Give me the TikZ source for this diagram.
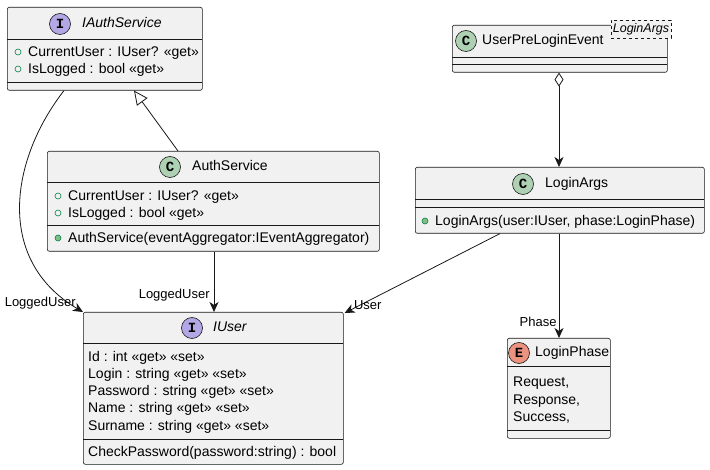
\documentclass[tikz,border=0pt]{standalone}
\usepackage{fontspec}
\setmainfont{Liberation Sans}
\setmonofont{Liberation Mono}
\usetikzlibrary{arrows.meta, positioning, calc}
\definecolor{umlline}{HTML}{181818}
\definecolor{umlbg}{HTML}{F1F1F1}
\definecolor{ifacecirc}{HTML}{B4A7E5}
\definecolor{classcirc}{HTML}{ADD1B2}
\definecolor{enumcirc}{HTML}{EB937F}
\definecolor{visgreen}{HTML}{038048}
\definecolor{vislight}{HTML}{84BE84}

\begin{document}
\begin{tikzpicture}[
    x=1pt, y=-1pt,
    classbox/.style={
        draw=umlline, fill=umlbg, line width=0.6pt, rounded corners=2pt,
        inner sep=0pt, anchor=north west
    },
    sepline/.style={draw=umlline, line width=0.6pt},
    stereo/.style={
        circle, draw=umlline, line width=0.6pt, fill=#1,
        minimum size=21pt, inner sep=0pt,
        font=\fontsize{14}{14}\selectfont\ttfamily\bfseries
    },
    clstitle/.style={
        anchor=west, inner sep=0pt, text height=10pt, text depth=3pt,
        font=\fontsize{14}{17}\selectfont
    },
    member/.style={
        anchor=west, inner sep=0pt, text height=10pt, text depth=3pt,
        font=\fontsize{14}{17}\selectfont
    },
    fieldicon/.style={circle, draw=visgreen, line width=0.6pt, minimum size=6pt, inner sep=0pt},
    methodicon/.style={fieldicon, fill=vislight},
    tmplbox/.style={
        draw=umlline, dashed, fill=umlbg, line width=0.6pt,
        minimum width=60pt, minimum height=18pt, inner sep=1pt,
        font=\fontsize{12.5}{12.5}\selectfont\itshape
    },
    arrow/.style={-{Stealth[length=10pt, width=9pt, inset=3pt]}, line width=0.8pt, draw=umlline},
    extends/.style={-{Triangle[fill=white, length=14pt, width=13pt]}, line width=0.8pt, draw=umlline},
    aggr/.style={{Diamond[fill=white, length=14pt, width=9pt]}-{Stealth[length=10pt, width=9pt, inset=3pt]}, line width=0.8pt, draw=umlline},
    lbl/.style={font=\fontsize{13}{13}\selectfont, inner sep=0pt}
]

\path[use as bounding box, fill=white] (0,0) rectangle (710,470);

% === IAuthService (interface) ===
\node[classbox, minimum width=195pt, minimum height=83pt] (iauth) at (7,7) {};
\draw[sepline] ([yshift=-32pt]iauth.north west) -- ++(195,0);
\draw[sepline] ([yshift=-75pt]iauth.north west) -- ++(195,0);
\node[stereo=ifacecirc] (iauth-c) at (60,24) {I};
\node[clstitle, font=\fontsize{14}{17}\selectfont\itshape] (iauth-t) at (82,24) {IAuthService};
\node[fieldicon] (iauth-v1) at (18,52) {};
\node[member] (iauth-a1) at (28,53) {CurrentUser : IUser? «get»};
\node[fieldicon] (iauth-v2) at (18,69) {};
\node[member] (iauth-a2) at (28,70) {IsLogged : bool «get»};

% === AuthService ===
\node[classbox, minimum width=332pt, minimum height=100pt] (auth) at (47,151) {};
\draw[sepline] ([yshift=-31pt]auth.north west) -- ++(332,0);
\draw[sepline] ([yshift=-74pt]auth.north west) -- ++(332,0);
\node[stereo=classcirc] (auth-c) at (170,167) {C};
\node[clstitle] (auth-t) at (192,167) {AuthService};
\node[fieldicon] (auth-v1) at (58,196) {};
\node[member] (auth-a1) at (68,197) {CurrentUser : IUser? «get»};
\node[fieldicon] (auth-v2) at (58,213) {};
\node[member] (auth-a2) at (68,214) {IsLogged : bool «get»};
\node[methodicon] (auth-v3) at (58,238) {};
\node[member] (auth-m1) at (68,239) {AuthService(eventAggregator:IEventAggregator)};

% === UserPreLoginEvent (generic) ===
\node[classbox, minimum width=215pt, minimum height=47pt] (upl) at (452,25) {};
\draw[sepline] ([yshift=-32pt]upl.north west) -- ++(215,0);
\draw[sepline] ([yshift=-39pt]upl.north west) -- ++(215,0);
\node[stereo=classcirc] (upl-c) at (466,41) {C};
\node[clstitle] (upl-t) at (482,41) {UserPreLoginEvent};
\node[tmplbox] (upl-tmpl) at (641,29) {LoginArgs};

% === LoginArgs ===
\node[classbox, minimum width=289pt, minimum height=66pt] (largs) at (415,167) {};
\draw[sepline] ([yshift=-32pt]largs.north west) -- ++(289,0);
\draw[sepline] ([yshift=-40pt]largs.north west) -- ++(289,0);
\node[stereo=classcirc] (largs-c) at (523,184) {C};
\node[clstitle] (largs-t) at (545,184) {LoginArgs};
\node[methodicon] (largs-v1) at (425,221) {};
\node[member] (largs-m1) at (435,222) {LoginArgs(user:IUser, phase:LoginPhase)};

% === IUser (interface) ===
\node[classbox, minimum width=260pt, minimum height=152pt] (iuser) at (83,312) {};
\draw[sepline] ([yshift=-31pt]iuser.north west) -- ++(260,0);
\draw[sepline] ([yshift=-127pt]iuser.north west) -- ++(260,0);
\node[stereo=ifacecirc] (iuser-c) at (192,328) {I};
\node[clstitle, font=\fontsize{14}{17}\selectfont\itshape] (iuser-t) at (213,328) {IUser};
\node[member] (iuser-a1) at (88,358) {Id : int «get» «set»};
\node[member] (iuser-a2) at (88,375) {Login : string «get» «set»};
\node[member] (iuser-a3) at (88,392) {Password : string «get» «set»};
\node[member] (iuser-a4) at (88,409) {Name : string «get» «set»};
\node[member] (iuser-a5) at (88,427) {Surname : string «get» «set»};
\node[member] (iuser-m1) at (88,453) {CheckPassword(password:string) : bool};

% === LoginPhase (enum) ===
\node[classbox, minimum width=103pt, minimum height=100pt] (lphase) at (507,338) {};
\draw[sepline] ([yshift=-28pt]lphase.north west) -- ++(103,0);
\draw[sepline] ([yshift=-92pt]lphase.north west) -- ++(103,0);
\node[stereo=enumcirc] (lphase-c) at (519,353) {E};
\node[clstitle] (lphase-t) at (535,353) {LoginPhase};
\node[member] (lphase-a1) at (513,383) {Request,};
\node[member] (lphase-a2) at (513,401) {Response,};
\node[member] (lphase-a3) at (513,418) {Success,};

% === Arrows ===

% AuthService -> IAuthService (realization)
\draw[extends] ([xshift=131pt]auth.north west) -- ([xshift=127pt]iauth.south west);

% IAuthService -> IUser
\draw[arrow] ([xshift=57pt]iauth.south west) .. controls (10,160) and (-5,260) .. (iuser.north west)
    node[lbl, pos=1, anchor=east, xshift=-7pt, yshift=9pt] {LoggedUser};

% AuthService -> IUser
\draw[arrow] ([xshift=167pt]auth.south west) -- ([xshift=131pt]iuser.north west)
    node[lbl, pos=1, anchor=east, xshift=-4pt, yshift=17pt] {LoggedUser};

% UserPreLoginEvent o-> LoginArgs
\draw[aggr] ([xshift=107pt]upl.south west) -- ([xshift=144pt]largs.north west);

% LoginArgs -> IUser
\draw[arrow] ([xshift=85pt]largs.south west) -- ([xshift=1pt, yshift=-1pt]iuser.north east)
    node[lbl, pos=1, anchor=west, xshift=9pt, yshift=8pt] {User};

% LoginArgs -> LoginPhase
\draw[arrow] ([xshift=144pt]largs.south west) -- ([xshift=52pt]lphase.north west)
    node[lbl, pos=1, anchor=east, xshift=-2pt, yshift=16pt] {Phase};

\end{tikzpicture}
\end{document}
